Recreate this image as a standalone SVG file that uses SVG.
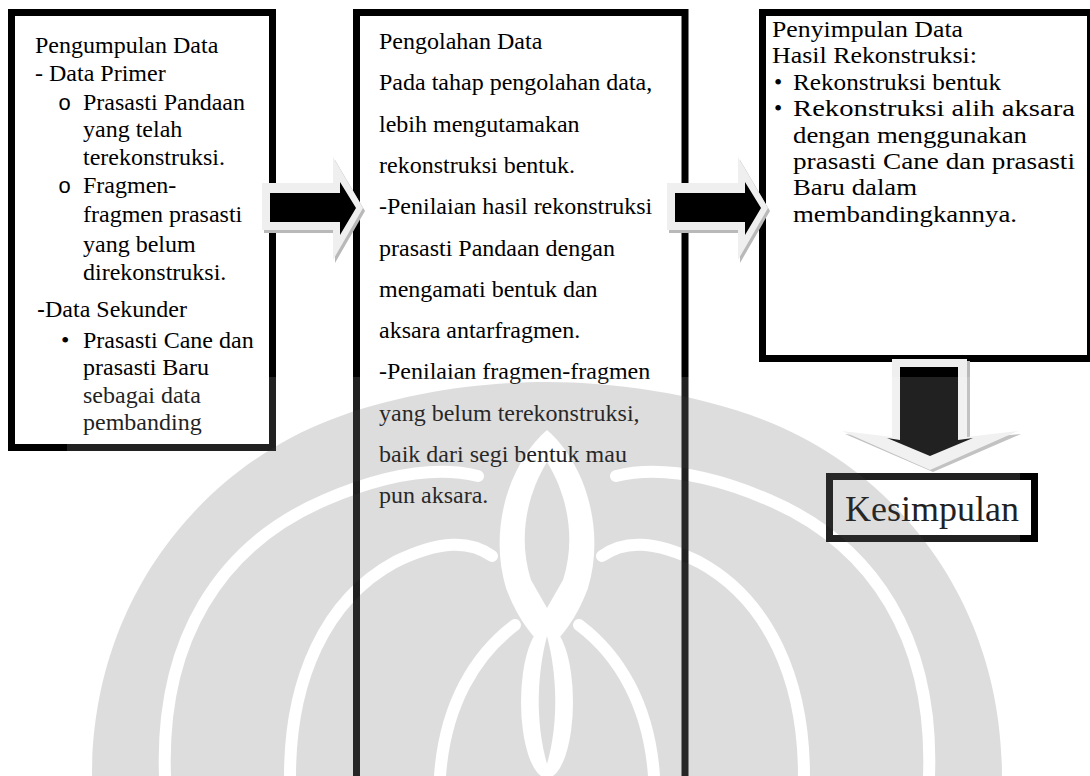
<svg xmlns="http://www.w3.org/2000/svg" width="1090" height="776" viewBox="0 0 1090 776">
<style>
  text { font-family: "Liberation Serif", "Times New Roman", serif; fill: #000; }
  .t { font-size: 24px; }
  .t3 { font-size: 23.5px; }
  .ob { font-family: "Liberation Mono", "Courier New", monospace; font-size: 22px; }
  .box { fill: #fff; stroke: #000; stroke-width: 7; }
  .aout { fill: #efefef; }
  .ash { fill: #b9b9b9; }
  .ain { fill: #000; }
  .gap { fill: none; stroke: #000; stroke-width: 12; stroke-linecap: round; }
</style>
<defs>
  <mask id="wm" maskUnits="userSpaceOnUse" x="0" y="0" width="1090" height="776">
    <path fill="#fff" d="M92,776 C92,600 200,470 330,420 C400,393 480,382 547,382 C614,382 694,393 764,420 C894,470 1002,600 1002,776 Z"/>
    <path class="gap" d="M165,776 C160,640 220,545 325,500 C395,470 445,468 478,476"/>
    <path class="gap" d="M929,776 C934,640 874,545 769,500 C699,470 649,468 616,476"/>
    <path class="gap" d="M290,776 C290,680 325,600 395,562 C440,540 470,540 492,556"/>
    <path class="gap" d="M804,776 C804,680 769,600 699,562 C654,540 624,540 602,556"/>
    <path class="gap" d="M440,776 C445,705 475,655 515,625"/>
    <path class="gap" d="M654,776 C649,705 619,655 579,625"/>
    <path fill="#000" d="M547,430 C584,462 606,528 588,588 C577,618 561,638 547,650 C533,638 517,618 506,588 C488,528 510,462 547,430 Z"/>
    <path fill="#fff" d="M547,462 C568,496 576,540 563,580 L547,608 L531,580 C518,540 526,496 547,462 Z"/>
    <ellipse fill="#000" cx="547" cy="702" rx="26" ry="76"/>
    <path fill="#fff" d="M547,636 C557,674 559,722 547,764 C535,722 537,674 547,636 Z"/>
  </mask>
</defs>

<rect x="0" y="0" width="1090" height="776" fill="#fff"/>

<g id="node-pengumpulan">
  <rect class="box" x="11.5" y="12.5" width="261" height="435"/>
  <text class="t" x="35" y="53">Pengumpulan Data</text>
  <text class="t" x="35" y="81">- Data Primer</text>
  <text class="ob" x="58" y="110">o</text>
  <text class="t" x="83" y="110">Prasasti Pandaan</text>
  <text class="t" x="83" y="137">yang telah</text>
  <text class="t" x="83" y="165">terekonstruksi.</text>
  <text class="ob" x="58" y="193">o</text>
  <text class="t" x="83" y="193">Fragmen-</text>
  <text class="t" x="83" y="222">fragmen prasasti</text>
  <text class="t" x="83" y="252">yang belum</text>
  <text class="t" x="83" y="280">direkonstruksi.</text>
  <text class="t" x="37" y="317"><tspan font-family="Liberation Sans, Arial, sans-serif">-</tspan>Data Sekunder</text>
  <text class="t" x="61" y="348">•</text>
  <text class="t" x="83" y="348">Prasasti Cane dan</text>
  <text class="t" x="83" y="375">prasasti Baru</text>
  <text class="t" x="83" y="403">sebagai data</text>
  <text class="t" x="83" y="430">pembanding</text>
</g>

<g id="node-pengolahan">
  <rect class="box" x="356.5" y="12.5" width="328.5" height="800"/>
  <text class="t" x="379" y="49">Pengolahan Data</text>
  <text class="t" x="379" y="90">Pada tahap pengolahan data,</text>
  <text class="t" x="379" y="132">lebih mengutamakan</text>
  <text class="t" x="379" y="173">rekonstruksi bentuk.</text>
  <text class="t" x="379" y="214">-Penilaian hasil rekonstruksi</text>
  <text class="t" x="379" y="256">prasasti Pandaan dengan</text>
  <text class="t" x="379" y="297">mengamati bentuk dan</text>
  <text class="t" x="379" y="338">aksara antarfragmen.</text>
  <text class="t" x="379" y="379">-Penilaian fragmen-fragmen</text>
  <text class="t" x="379" y="421">yang belum terekonstruksi,</text>
  <text class="t" x="379" y="462">baik dari segi bentuk mau</text>
  <text class="t" x="379" y="503">pun aksara.</text>
</g>

<g id="node-penyimpulan">
  <rect class="box" x="762.5" y="12.5" width="328" height="346"/>
  <text class="t3" x="772" y="37" textLength="191" lengthAdjust="spacingAndGlyphs">Penyimpulan Data</text>
  <text class="t3" x="772" y="63.4" textLength="205" lengthAdjust="spacingAndGlyphs">Hasil Rekonstruksi:</text>
  <text class="t3" x="774" y="89.8">•</text>
  <text class="t3" x="793" y="89.8" textLength="208" lengthAdjust="spacingAndGlyphs">Rekonstruksi bentuk</text>
  <text class="t3" x="774" y="116.2">•</text>
  <text class="t3" x="793" y="116.2" textLength="282" lengthAdjust="spacingAndGlyphs">Rekonstruksi alih aksara</text>
  <text class="t3" x="793" y="142.6" textLength="234" lengthAdjust="spacingAndGlyphs">dengan menggunakan</text>
  <text class="t3" x="793" y="169" textLength="282" lengthAdjust="spacingAndGlyphs">prasasti Cane dan prasasti</text>
  <text class="t3" x="793" y="195.4" textLength="124" lengthAdjust="spacingAndGlyphs">Baru dalam</text>
  <text class="t3" x="793" y="221.8" textLength="224" lengthAdjust="spacingAndGlyphs">membandingkannya.</text>
</g>

<g id="node-kesimpulan">
  <rect class="box" x="829.5" y="476.5" width="205" height="62"/>
  <text x="932" y="521" font-size="36" text-anchor="middle">Kesimpulan</text>
</g>

<g id="connectors">
  <g id="arrow-1">
    <polygon class="ash" points="264,186 335,186 335,160 365,211 335,263 335,233 264,233"/>
    <polygon class="aout" points="262,183 333,183 333,157 363,208 333,260 333,230 262,230"/>
    <polygon class="ain" points="270,193 340,193 340,182 356,208 340,235 340,222 270,222"/>
  </g>
  <g id="arrow-2" transform="translate(405,0)">
    <polygon class="ash" points="264,186 335,186 335,160 365,211 335,263 335,233 264,233"/>
    <polygon class="aout" points="262,183 333,183 333,157 363,208 333,260 333,230 262,230"/>
    <polygon class="ain" points="270,193 340,193 340,182 356,208 340,235 340,222 270,222"/>
  </g>
  <g id="arrow-3">
    <polygon class="ash" points="895,361 970,361 970,439 1021,434 933,472 845,434 895,439"/>
    <polygon class="aout" points="892,359 967,359 967,437 1018,431 930,470 842,431 892,437"/>
    <polygon class="ain" points="900,367 958,367 958,440 973,438 930,456 887,438 900,440"/>
  </g>
</g>

<g id="watermark">
  <rect x="67" y="377" width="953" height="399" fill="#fff" fill-opacity="0.13"/>
  <rect x="0" y="0" width="1090" height="776" fill="#404040" fill-opacity="0.18" mask="url(#wm)"/>
</g>
</svg>
